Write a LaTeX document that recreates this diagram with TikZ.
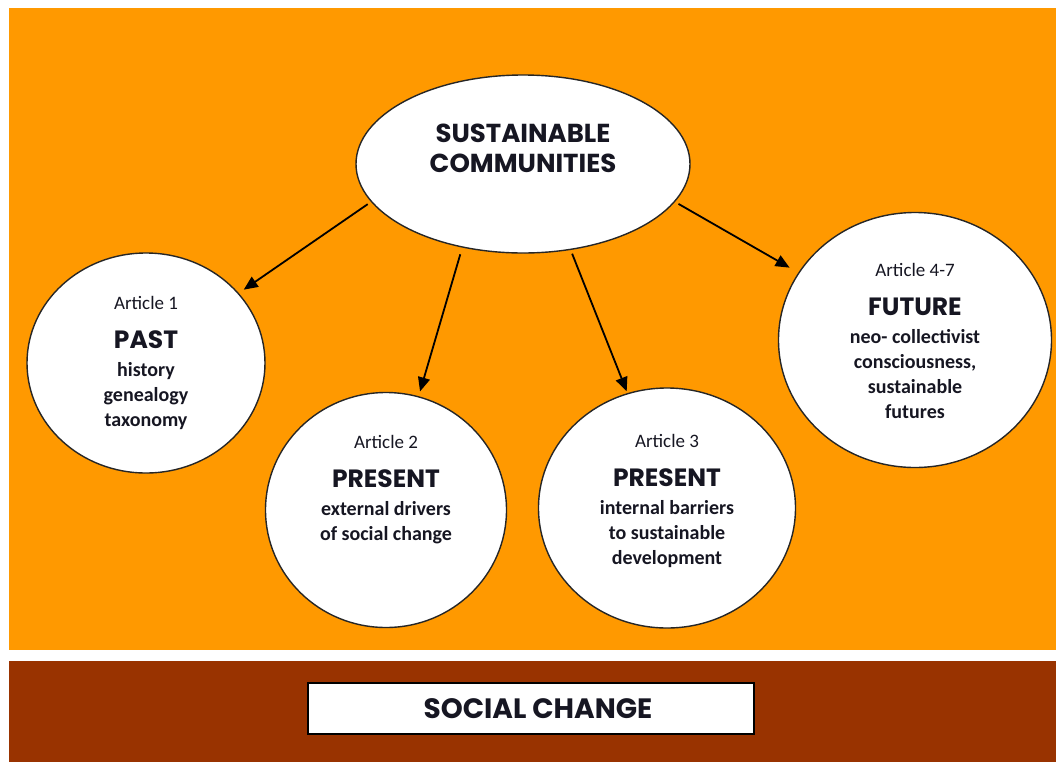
\documentclass[tikz,border=0pt]{standalone}
\usepackage{fontspec}
\setmainfont{Carlito}
\newfontfamily\headfont{Poppins}
\usetikzlibrary{shapes.geometric,arrows.meta}
\definecolor{bgorange}{RGB}{255,153,0}
\definecolor{bgbrown}{RGB}{153,51,0}
\definecolor{ink}{RGB}{22,22,34}
\newcommand{\art}[1]{{\fontsize{9.5}{12}\selectfont\mdseries #1}}
\newcommand{\hd}[1]{{\headfont\bfseries\fontsize{12.5}{14}\selectfont #1}}

\begin{document}
\begin{tikzpicture}[x=0.5pt,y=-0.5pt,
  bubble/.style={ellipse,draw=black!85,line width=0.7pt,fill=white,inner sep=0pt},
  txt/.style={align=center,text=ink,inner sep=0pt,font=\fontsize{10}{12.5}\selectfont\bfseries},
  link/.style={-{Triangle[length=7pt,width=6pt]},line width=0.9pt,shorten <=2pt}]
\useasboundingbox (0,0) rectangle (1056,762);
\fill [white] (0,0) rectangle (1056,762);
\fill [bgorange] (9,8) rectangle (1056,650);
\fill [bgbrown] (9,661) rectangle (1056,762);

\node [bubble,minimum width=167pt,minimum height=89pt] (hub) at (523,164) {};
\node [bubble,minimum width=119pt,minimum height=110pt] (past) at (146,363) {};
\node [bubble,minimum width=120.5pt,minimum height=117.5pt] (art2) at (386,510) {};
\node [bubble,minimum width=128.5pt,minimum height=120pt] (art3) at (667,508) {};
\node [bubble,minimum width=136.5pt,minimum height=127.5pt] (future) at (915,340) {};

\node [txt,font=\headfont\bfseries\fontsize{13}{15}\selectfont] (hubtxt) at (523,148) {SUSTAINABLE\\COMMUNITIES};
\node [txt] (pasttxt) at (146,363) {\art{Article 1}\\[7pt]\hd{PAST}\\[1.5pt]history\\genealogy\\taxonomy};
\node [txt] (art2txt) at (386,490) {\art{Article 2}\\[7pt]\hd{PRESENT}\\[1.5pt]external drivers\\of social change};
\node [txt] (art3txt) at (667,501) {\art{Article 3}\\[7pt]\hd{PRESENT}\\[1.5pt]internal barriers\\to sustainable\\development};
\node [txt] (futuretxt) at (915,341) {\art{Article 4-7}\\[7pt]\hd{FUTURE}\\[1.5pt]neo- collectivist\\consciousness,\\sustainable\\futures};

\draw [link,shorten >=3pt] (hub.194) -- (past.37);
\draw [link,shorten >=2.5pt,shorten <=3.5pt] (hub.234) -- (art2.74);
\draw [link,shorten >=1pt] (hub.299) -- (art3.109);
\draw [link,shorten >=5pt] (hub.346) -- (future.150);

\node [draw=black,line width=0.9pt,fill=white,minimum width=223pt,minimum height=25.5pt,inner sep=0pt] (change) at (531,708.5) {};
\node [text=ink,inner sep=0pt,font=\headfont\bfseries\fontsize{14}{16}\selectfont] (changetxt) at (538,708.5) {SOCIAL CHANGE};
\end{tikzpicture}
\end{document}
